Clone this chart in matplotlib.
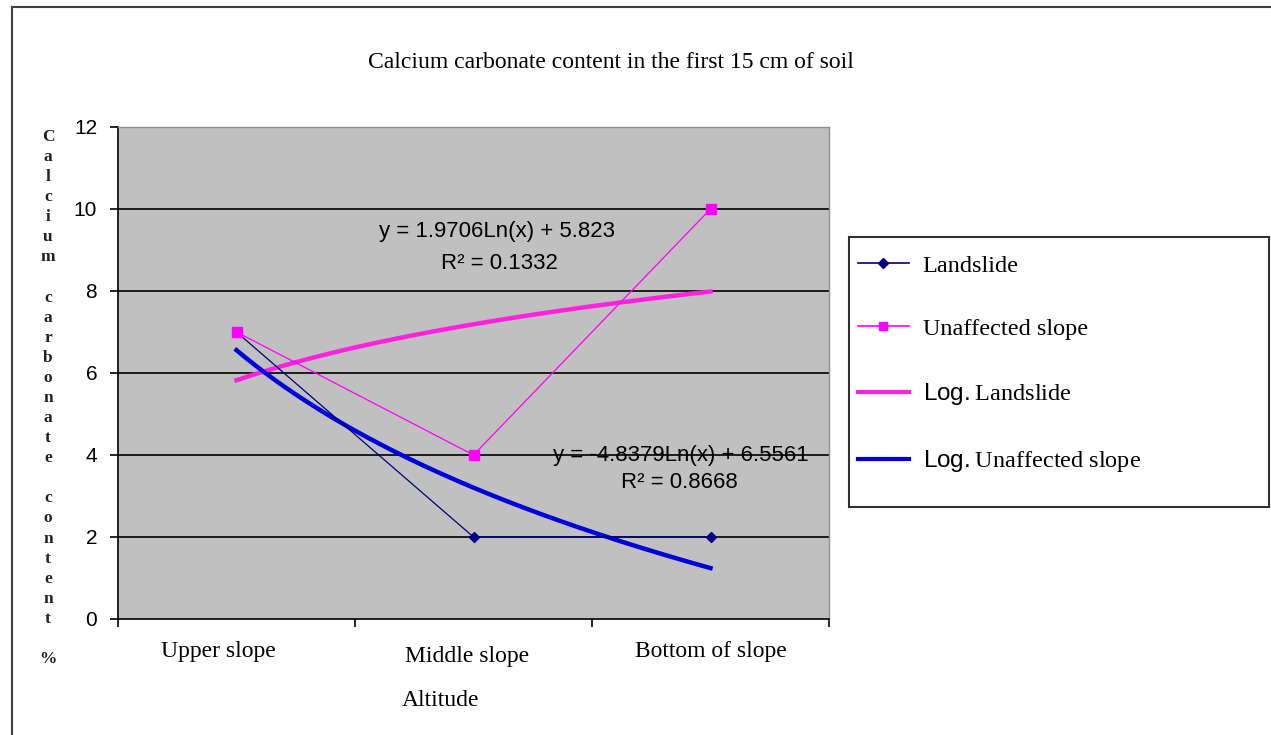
import numpy as np
import matplotlib.pyplot as plt
from matplotlib.lines import Line2D
from matplotlib.patches import Rectangle

# data
positions = ['Upper slope', 'Middle slope', 'Bottom of slope']
landslide = [7, 2, 2]
unaffected = [7, 4, 10]
y_ticks = [0, 2, 4, 6, 8, 10, 12]
ylabel_text = 'Calcium carbonate content %'

plt.rcParams['mathtext.fontset'] = 'custom'
plt.rcParams['mathtext.sf'] = 'Liberation Sans'
serif = 'Liberation Serif'
sans = 'Liberation Sans'

W, H = 1271, 735
fig = plt.figure(figsize=(W / 100, H / 100), dpi=100)
fig.patch.set_facecolor('white')

# outer chart frame (top and left only visible)
fig.add_artist(Line2D([12 / W, 12 / W], [0, 1 - 7 / H], color='#404040', lw=1.5))
fig.add_artist(Line2D([12 / W, 1], [1 - 7 / H, 1 - 7 / H], color='#404040', lw=1.5))

ax = fig.add_axes([118 / W, 1 - 619 / H, (829 - 118) / W, (619 - 127) / H])
ax.set_facecolor('#C0C0C0')

x = np.arange(1, len(positions) + 1)
ax.set_xlim(0.5, len(positions) + 0.5)
ax.set_ylim(0, 12)

for v in y_ticks[1:-1]:
    ax.axhline(v, color='black', lw=1.2, zorder=1)

# data series
ax.plot(x, landslide, color='#000080', lw=0.9, marker='D', ms=5, zorder=3)
ax.plot(x, unaffected, color='#FF00FF', lw=0.9, marker='s', ms=6.5, zorder=3)

# logarithmic trend lines fitted from the data
xs = np.linspace(1, len(positions), 200)
a1, b1 = np.polyfit(np.log(x), unaffected, 1)
a2, b2 = np.polyfit(np.log(x), landslide, 1)
ax.plot(xs, a1 * np.log(xs) + b1, color='#FF22DD', lw=3.2, zorder=2)
ax.plot(xs, a2 * np.log(xs) + b2, color='#0000DD', lw=3.2, zorder=2)


def r2(y, a, b):
    y = np.array(y, float)
    fit = a * np.log(x) + b
    return 1 - np.sum((y - fit) ** 2) / np.sum((y - y.mean()) ** 2)


ax.text(2.10, 9.46, 'y = %.4fLn(x) + %.3f' % (a1, b1), ha='center', va='center',
        fontsize=16, family=sans, zorder=4)
ax.text(2.11, 8.68, 'R² = %.4f' % r2(unaffected, a1, b1), ha='center', va='center',
        fontsize=16, family=sans, zorder=4)
ax.text(2.876, 4.0, 'y = %.4fLn(x) + %.4f' % (a2, b2), ha='center', va='center',
        fontsize=16, family=sans, zorder=4)
ax.text(2.87, 3.34, 'R² = %.4f' % r2(landslide, a2, b2), ha='center', va='center',
        fontsize=16, family=sans, zorder=4)

# axes styling
for side in ['top', 'right']:
    ax.spines[side].set_color('#909090')
    ax.spines[side].set_linewidth(1)
for side in ['left', 'bottom']:
    ax.spines[side].set_color('black')
    ax.spines[side].set_linewidth(1.2)

ax.set_yticks(y_ticks)
ax.set_yticklabels([str(v) for v in y_ticks], family=sans, fontsize=15)
ax.tick_params(axis='y', direction='out', length=6, width=1.2, pad=9)

ax.set_xticks(np.arange(0.5, len(positions) + 1, 1))
ax.set_xticklabels([])
ax.tick_params(axis='x', direction='out', length=6, width=1.2)

# category labels (Excel placed them a little unevenly)
label_x = [0.922, 1.973, 3.0]
label_y = [-0.067, -0.077, -0.067]
for lx, ly, name in zip(label_x, label_y, positions):
    ax.text(lx, ly, name, transform=ax.get_xaxis_transform(), ha='center', va='center',
            family=serif, fontsize=17)

fig.text(441 / W, 1 - 700 / H, 'Altitude', ha='center', va='center', family=serif, fontsize=17)
fig.text(611 / W, 1 - 62 / H, 'Calcium carbonate content in the first 15 cm of soil',
         ha='center', va='center', family=serif, fontsize=17)

# stacked vertical y label
lines = []
for word in ylabel_text.split(' '):
    lines.extend(list(word))
    lines.append('')
fig.text(48 / W, 1 - 398 / H, '\n'.join(lines[:-1]), ha='center', va='center',
         family=serif, fontsize=12.5, fontweight='bold', color='#222222', linespacing=1.34)

# legend
handles = [
    Line2D([], [], color='#000080', lw=1.2, marker='D', ms=5),
    Line2D([], [], color='#FF00FF', lw=1.2, marker='s', ms=6),
    Line2D([], [], color='#FF22DD', lw=3),
    Line2D([], [], color='#0000DD', lw=3),
]
labels = ['Landslide', 'Unaffected slope', r'$\mathsf{Log.}$Landslide', r'$\mathsf{Log.}$Unaffected slope']
leg = fig.legend(handles, labels, loc='upper left',
                 bbox_to_anchor=(849 / W, 1 - 246 / H), prop={'family': serif, 'size': 17.5},
                 frameon=False, handlelength=2.1, handletextpad=0.58,
                 labelspacing=1.7, borderpad=0.35, borderaxespad=0)
fig.add_artist(Rectangle((849 / W, 1 - 507 / H), 420 / W, 270 / H, transform=fig.transFigure,
                         fill=False, edgecolor='#303030', lw=1.5))

fig.savefig('out.png', dpi=100)
